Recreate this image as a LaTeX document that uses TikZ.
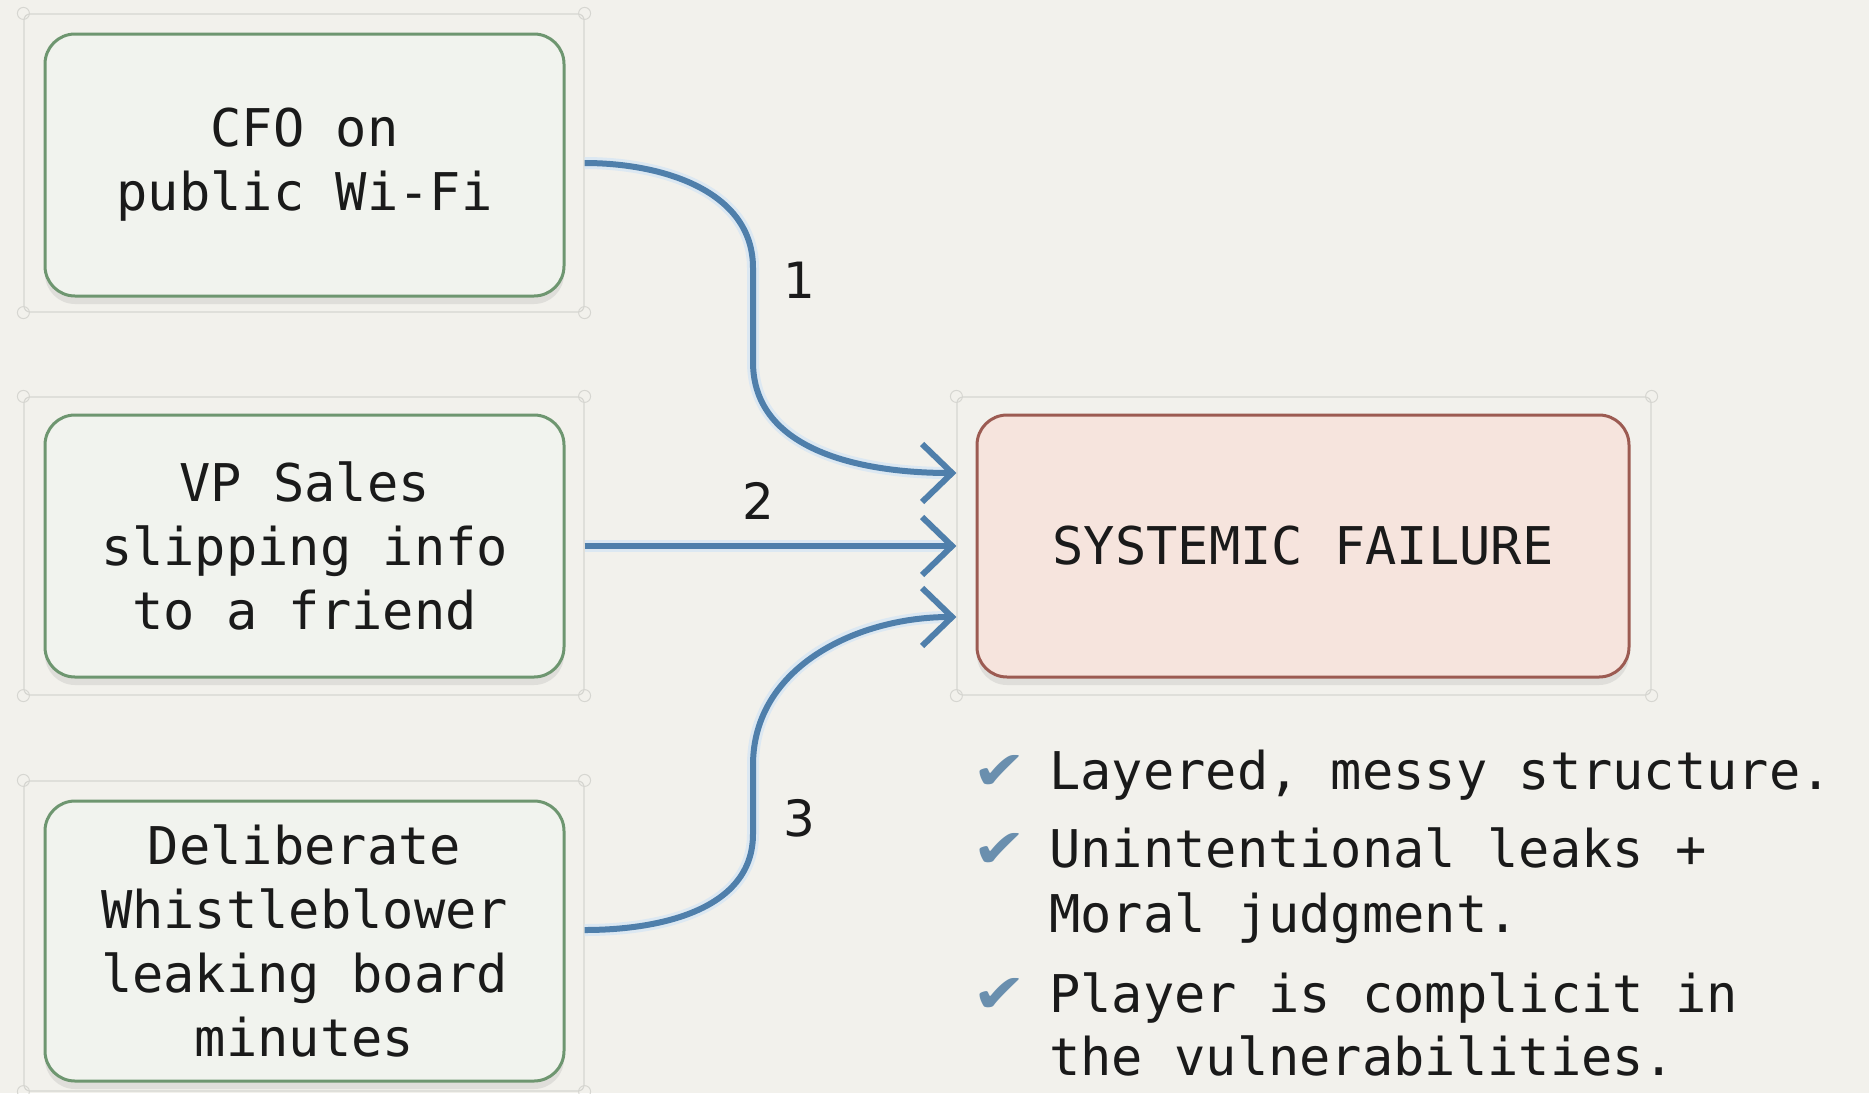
\documentclass[tikz,border=0pt]{standalone}
\usepackage{fontspec}
\setmonofont{DejaVu Sans Mono}
\newfontfamily\labelfont{DejaVu Sans}
\newfontfamily\symfont{DejaVu Sans}
\usetikzlibrary{arrows.meta,shadows}
\definecolor{bgc}{HTML}{F2F1EC}
\definecolor{gfill}{HTML}{F1F3EE}
\definecolor{gline}{HTML}{6E9670}
\definecolor{rfill}{HTML}{F6E4DD}
\definecolor{rline}{HTML}{9C5B52}
\definecolor{framec}{HTML}{D6D6D1}
\definecolor{arrc}{HTML}{4F7FAB}
\definecolor{halo}{HTML}{DCE8F2}
\definecolor{chkc}{HTML}{6A8FAE}
\definecolor{txt}{HTML}{1A1A1A}
\tikzset{
  boxtext/.style={font=\fontsize{52}{64}\selectfont\ttfamily, text=txt, align=center},
  greenbox/.style={boxtext, draw=gline, fill=gfill, line width=3pt, rounded corners=30pt,
     minimum width=519pt, drop shadow={opacity=0.16, shadow xshift=0pt, shadow yshift=-8pt}},
  redbox/.style={boxtext, draw=rline, fill=rfill, line width=3pt, rounded corners=30pt,
     minimum width=652pt, minimum height=262pt, drop shadow={opacity=0.16, shadow xshift=0pt, shadow yshift=-8pt}},
  selframe/.style={draw=framec, line width=1.2pt, rounded corners=6pt, inner sep=0pt},
  arr/.style={draw=arrc, line width=6pt, -{Straight Barb[length=30pt, width=58pt, line width=6pt]}},
  haloline/.style={draw=halo, line width=12pt},
  numlabel/.style={font=\fontsize{50}{60}\selectfont\labelfont, text=txt},
  bullettext/.style={font=\fontsize{52}{64}\selectfont\ttfamily, text=txt, anchor=base west, inner sep=0pt},
  chk/.style={font=\fontsize{54}{56}\selectfont\symfont, text=chkc, anchor=base, inner sep=0pt}
}
\begin{document}
\begin{tikzpicture}[x=1pt,y=-1pt]
\fill[bgc] (0,0) rectangle (1869,1093);
\useasboundingbox (0,0) rectangle (1869,1093);

% selection frames
\node[selframe, minimum width=560pt, minimum height=298pt] (f1) at (304,163) {};
\node[selframe, minimum width=560pt, minimum height=298pt] (f2) at (304,546) {};
\node[selframe, minimum width=560pt, minimum height=310pt] (f3) at (304,936) {};
\node[selframe, minimum width=694pt, minimum height=298pt] (fr) at (1304,546) {};
\foreach \f in {f1,f2,f3,fr}{
  \foreach \a in {north west,north east,south west,south east}{
    \draw[framec, line width=1pt] (\f.\a) circle[radius=6pt];
  }
}

% boxes
\node[greenbox, minimum height=262pt] (b1) at (304.5,165) {CFO on\\public Wi-Fi};
\node[greenbox, minimum height=262pt] (b2) at (304.5,546) {VP Sales\\slipping info\\to a friend};
\node[greenbox, minimum height=280pt] (b3) at (304.5,941) {Deliberate\\Whistleblower\\leaking board\\minutes};
\node[redbox] (r) at (1303,546) {SYSTEMIC FAILURE};

% arrows
\coordinate (e1) at ([yshift=73pt]fr.west);
\coordinate (e2) at (fr.west);
\coordinate (e3) at ([yshift=-71pt]fr.west);
\coordinate (s1) at (f1.east);
\coordinate (s2) at (f2.east);
\coordinate (s3) at ([yshift=6pt]f3.east);
\coordinate (k1) at (753,268);
\coordinate (k2) at (753,362);
\coordinate (k3) at (753,834);
\coordinate (k4) at (753,765);
\draw[haloline] (s1) to[out=0,in=90] (k1) -- (k2) to[out=-90,in=180] ([xshift=-8pt]e1);
\draw[haloline] (s2) -- ([xshift=-8pt]e2);
\draw[haloline] (s3) to[out=0,in=-90] (k3) -- (k4) to[out=90,in=180] ([xshift=-8pt]e3);
\draw[arr] (s1) to[out=0,in=90] (k1) -- (k2) to[out=-90,in=180] (e1);
\draw[arr] (s2) -- (e2);
\draw[arr] (s3) to[out=0,in=-90] (k3) -- (k4) to[out=90,in=180] (e3);

\node[numlabel] (n1) at (799,280) {1};
\node[numlabel] (n2) at (758,501) {2};
\node[numlabel] (n3) at (799,818) {3};

% bullets
\node[chk] (c1) at (1000,789) {\scalebox{1.2}[1]{✔}};
\node[chk] (c2) at (1000,867) {\scalebox{1.2}[1]{✔}};
\node[chk] (c3) at (1000,1012) {\scalebox{1.2}[1]{✔}};
\node[bullettext] (t1) at (1049,789) {Layered, messy structure.};
\node[bullettext] (t2a) at (1049,867) {Unintentional leaks +};
\node[bullettext] (t2b) at (1049,932) {Moral judgment.};
\node[bullettext] (t3a) at (1049,1012) {Player is complicit in};
\node[bullettext] (t3b) at (1049,1075) {the vulnerabilities.};
\end{tikzpicture}
\end{document}
